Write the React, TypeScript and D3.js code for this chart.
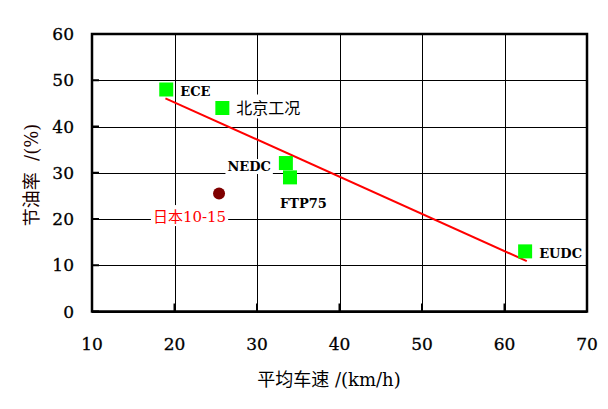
import React, { useEffect, useRef } from "react";
import * as d3 from "d3";

const cycleNames = ["ECE", "北京工况", "NEDC", "FTP75", "EUDC"];
const cycleSpeeds = [19.0, 25.8, 33.5, 34.0, 62.5];
const cycleSavings = [48.0, 44.0, 32.1, 29.0, 13.0];
const japanName = ["日本10-15"];
const japanSpeed = [25.4];
const japanSaving = [25.5];
const trendSpeeds = [18.9, 62.7];
const trendSavings = [46.1, 10.9];
const xTicks = [10, 20, 30, 40, 50, 60, 70];
const yTicks = [0, 10, 20, 30, 40, 50, 60];
const xTitle = "平均车速 /(km/h)";
const yTitle = "节油率  /(%)";

const CJK = "Noto Sans CJK SC";
const SERIF = "DejaVu Serif";

// label placement relative to the marker (pixels)
const labelStyle: Record<string, { dx: number; dy: number; anchor: string; size: number; weight: string; color: string }> = {
  "ECE": { dx: 14, dy: 6.5, anchor: "start", size: 13, weight: "bold", color: "#000" },
  "北京工况": { dx: 14, dy: 5.5, anchor: "start", size: 16, weight: "normal", color: "#000" },
  "NEDC": { dx: -15, dy: 8, anchor: "end", size: 13, weight: "bold", color: "#000" },
  "FTP75": { dx: -10, dy: 31, anchor: "start", size: 13, weight: "bold", color: "#000" },
  "EUDC": { dx: 14, dy: 7, anchor: "start", size: 13, weight: "bold", color: "#000" },
  "日本10-15": { dx: -29.5, dy: 28.5, anchor: "middle", size: 15, weight: "normal", color: "#ff0000" },
};

// split a string into runs of CJK / non-CJK, each in its own tspan
function addMixed(t: any, s: string, latinWeight = "normal") {
  const runs = s.match(/[\u3000-\u9fff]+|[^\u3000-\u9fff]+/g) || [];
  runs.forEach((r) => {
    const isCjk = /[\u3000-\u9fff]/.test(r);
    t.append("tspan").attr("font-family", isCjk ? CJK : SERIF)
      .attr("font-weight", isCjk ? "normal" : latinWeight).text(r);
  });
}

export default function App() {
  const ref = useRef<SVGSVGElement>(null);

  useEffect(() => {
    const svg = d3.select(ref.current);
    svg.selectAll("*").remove();
    const left = 92, right = 587, top = 34, bottom = 311.5;
    const x = d3.scaleLinear().domain([10, 70]).range([left, right]);
    const y = d3.scaleLinear().domain([0, 60]).range([bottom, top]);

    svg.append("rect").attr("width", 608).attr("height", 409).attr("fill", "#fff");

    const g = svg.append("g");
    // gridlines
    g.selectAll("line.vx").data(xTicks).enter().append("line")
      .attr("x1", (d) => Math.round(x(d)) + 0.5).attr("x2", (d) => Math.round(x(d)) + 0.5)
      .attr("y1", top).attr("y2", bottom).attr("stroke", "#000").attr("stroke-width", 1);
    g.selectAll("line.hy").data(yTicks).enter().append("line")
      .attr("y1", (d) => Math.round(y(d)) + 0.5).attr("y2", (d) => Math.round(y(d)) + 0.5)
      .attr("x1", left).attr("x2", right).attr("stroke", "#000").attr("stroke-width", 1);
    // inward ticks
    g.selectAll("line.tx").data(xTicks).enter().append("line")
      .attr("x1", (d) => x(d)).attr("x2", (d) => x(d))
      .attr("y1", bottom).attr("y2", bottom - 8).attr("stroke", "#000").attr("stroke-width", 2);
    g.selectAll("line.ty").data(yTicks).enter().append("line")
      .attr("y1", (d) => y(d)).attr("y2", (d) => y(d))
      .attr("x1", left).attr("x2", left + 7).attr("stroke", "#000").attr("stroke-width", 2);
    // frame
    g.append("rect").attr("x", left).attr("y", top).attr("width", right - left).attr("height", bottom - top)
      .attr("fill", "none").attr("stroke", "#000").attr("stroke-width", 2.5);

    // tick labels
    g.selectAll("text.xl").data(xTicks).enter().append("text")
      .attr("x", (d) => x(d)).attr("y", 350).attr("text-anchor", "middle")
      .attr("font-family", SERIF).attr("font-size", 17).attr("fill", "#000")
      .attr("stroke", "#000").attr("stroke-width", 0.3).text((d) => d);
    g.selectAll("text.yl").data(yTicks).enter().append("text")
      .attr("x", 74).attr("y", (d) => y(d) + 6).attr("text-anchor", "end")
      .attr("font-family", SERIF).attr("font-size", 17).attr("fill", "#000")
      .attr("stroke", "#000").attr("stroke-width", 0.3).text((d) => d);

    // axis titles
    const xt = g.append("text").attr("x", 329).attr("y", 386).attr("text-anchor", "middle")
      .attr("font-size", 18).attr("fill", "#000").attr("xml:space", "preserve");
    addMixed(xt, xTitle);
    const yt = g.append("text").attr("transform", "translate(38,175) rotate(-90)").attr("text-anchor", "middle")
      .attr("font-size", 18).attr("fill", "#1a0000").attr("xml:space", "preserve");
    addMixed(yt, yTitle);

    // trend line
    const line = d3.line<number>().x((d, i) => x(trendSpeeds[i])).y((d) => y(d));
    g.append("path").attr("d", line(trendSavings) as string).attr("fill", "none")
      .attr("stroke", "#ff0000").attr("stroke-width", 2);

    // labels with white background
    const labels = cycleNames.map((n, i) => ({ name: n, px: x(cycleSpeeds[i]), py: y(cycleSavings[i]) }))
      .concat(japanName.map((n, i) => ({ name: n, px: x(japanSpeed[i]), py: y(japanSaving[i]) })));
    labels.forEach((l) => {
      const s = labelStyle[l.name];
      const lg = g.append("g");
      const bg = lg.append("rect").attr("fill", "#fff");
      const t = lg.append("text").attr("x", l.px + s.dx).attr("y", l.py + s.dy)
        .attr("text-anchor", s.anchor).attr("font-size", s.size).attr("fill", s.color);
      addMixed(t, l.name, s.weight);
      const bb = (t.node() as SVGTextElement).getBBox();
      bg.attr("x", bb.x - 2).attr("y", bb.y).attr("width", bb.width + 4).attr("height", bb.height);
    });

    // markers
    g.selectAll("rect.pt").data(cycleNames).enter().append("rect")
      .attr("x", (d, i) => x(cycleSpeeds[i]) - 7).attr("y", (d, i) => y(cycleSavings[i]) - 7)
      .attr("width", 14).attr("height", 14).attr("fill", "#00ff00");
    g.selectAll("circle.jp").data(japanName).enter().append("circle")
      .attr("cx", (d, i) => x(japanSpeed[i])).attr("cy", (d, i) => y(japanSaving[i]))
      .attr("r", 6).attr("fill", "#7f0000");
  }, []);

  return (
    <svg ref={ref} width={608} height={409} style={{ position: "absolute", left: 0, top: 0 }} />
  );
}
